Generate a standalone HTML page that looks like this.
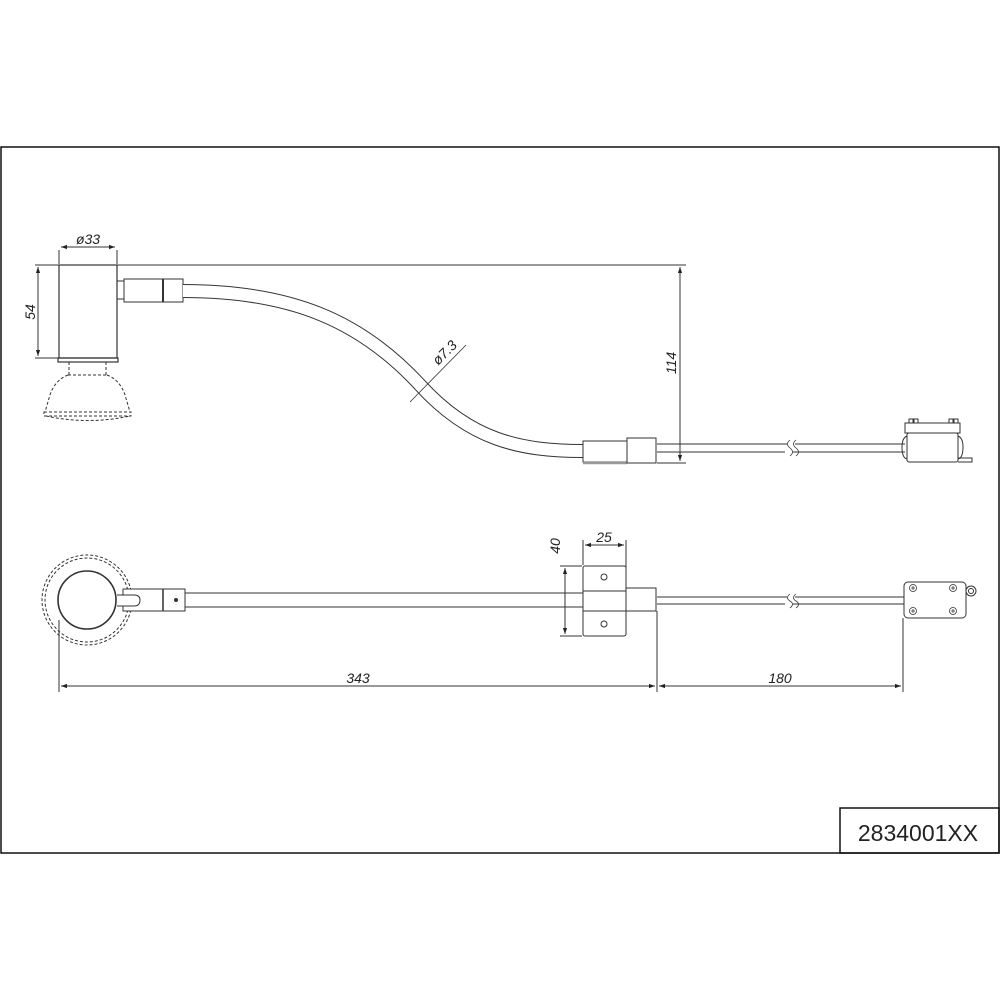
<!DOCTYPE html>
<html><head><meta charset="utf-8"><style>
html,body{margin:0;padding:0;background:#fff;}
svg{display:block;}
text{font-family:"Liberation Sans",sans-serif;fill:#222;}
</style></head><body>
<svg width="1000" height="1000" viewBox="0 0 1000 1000" xmlns="http://www.w3.org/2000/svg">
<defs>
<marker id="a" viewBox="0 0 10 10" refX="10" refY="5" markerWidth="8" markerHeight="6" orient="auto-start-reverse" markerUnits="userSpaceOnUse"><path d="M0,1.5 L10,5 L0,8.5z" fill="#222"/></marker>
</defs>
<rect x="1" y="147" width="998" height="706" fill="none" stroke="#111" stroke-width="1.5"/>
<rect x="840" y="808" width="159" height="45" fill="none" stroke="#111" stroke-width="1.5"/>
<text x="918" y="841" font-size="23" text-anchor="middle" fill="#111">2834001XX</text>

<g fill="none" stroke="#333" stroke-width="1">
<rect x="59" y="265" width="58" height="93" fill="#fff" stroke-width="1.2"/>
<rect x="58" y="358" width="60" height="4" stroke-width="1.2"/>
<g stroke-dasharray="3,2">
<path d="M69,362 V375 M106,362 V375 M68,375 H107"/>
<path d="M68,375 Q55,380 50,395 L45,412 M107,375 Q120,380 125,395 L130,412"/>
<rect x="44" y="412" width="87" height="4"/>
<path d="M46,416 Q88,425 130,416"/>
</g>
<rect x="117" y="281" width="7" height="18"/>
<path d="M124,279 H163 V302 H124 Z"/>
<path d="M163,279 V302" stroke-width="2"/>
<path d="M163,279 H183 V302 H163"/>
<path d="M183,291 C290,291 360,320 420,385 C470,440 520,451 583,451" stroke="#333" stroke-width="14"/>
<path d="M183,291 C290,291 360,320 420,385 C470,440 520,451 583,451" stroke="#fff" stroke-width="12"/>
<rect x="583" y="441" width="44" height="21" fill="#fff"/>
<path d="M583,463 H627" stroke-width="2.5" stroke="#999"/>
<path d="M627,438 H656 V463 H627 Z" fill="#fff"/>
<path d="M657,444 H787 M657,452 H785 M795,444 H905 M793,452 H905"/>
<path d="M790,440 Q785,444 790,448 Q795,452 790,456 M796,440 Q791,444 796,448 Q801,452 796,456" stroke-width="0.8"/>
<rect x="905" y="423" width="55" height="10"/>
<rect x="907" y="433" width="51" height="29" rx="2"/>
<path d="M907,436 Q902,438 902,447 Q902,458 907,459 M958,436 Q963,438 963,447 Q963,458 958,459"/>
<path d="M958,458 H972 V462 H958"/>
<path d="M909,423 v-4 h4 v4 M914,423 v-4 h4 v4 M949,423 v-4 h4 v4 M954,423 v-4 h4 v4"/>
<path d="M35,265 H686 M35,358 H58 M59,250 V264 M117,250 V264 M657,463 H686"/>
<path d="M38,267 V356" marker-start="url(#a)" marker-end="url(#a)"/>
<path d="M61,247 H115" marker-start="url(#a)" marker-end="url(#a)"/>
<path d="M680,267 V461" marker-start="url(#a)" marker-end="url(#a)"/>
<path d="M410,402 L466,345" stroke-width="0.8"/>
<circle cx="87" cy="600" r="29" stroke-width="1.6"/>
<circle cx="87" cy="600" r="42" stroke-dasharray="3,2"/>
<circle cx="87" cy="600" r="45" stroke-dasharray="3,2"/>
<rect x="123" y="589" width="62" height="22" fill="#fff"/>
<path d="M163,589 V611" stroke-width="1.5"/>
<circle cx="176" cy="600" r="1.5" fill="#333"/>
<path d="M117,595 H134 Q140,595 140,600 Q140,606 134,606 H117" fill="#fff"/>
<path d="M185,593 H583 M185,607 H583"/>
<rect x="583" y="566" width="43" height="70" rx="2" fill="#fff"/>
<path d="M583,591 H626 M583,611 H626"/>
<circle cx="604" cy="577" r="3"/>
<circle cx="604" cy="624" r="3"/>
<path d="M626,588 H656 V611 H626"/>
<path d="M657,597 H787 M657,604 H785 M795,597 H904 M793,604 H904"/>
<path d="M790,594 Q785,598 790,601 Q795,604 790,608 M796,594 Q791,598 796,601 Q801,604 796,608" stroke-width="0.8"/>
<rect x="904" y="582" width="62" height="36" rx="4"/>
<circle cx="971" cy="591" r="5"/><circle cx="971" cy="591" r="2.5"/>
<g stroke-width="0.8">
<circle cx="913" cy="588" r="3.5"/><circle cx="953" cy="588" r="3.5"/><circle cx="913" cy="611" r="3.5"/><circle cx="953" cy="611" r="3.5"/>
<path d="M911,588h4M913,586v4M951,588h4M953,586v4M911,611h4M913,609v4M951,611h4M953,609v4"/>
</g>
<path d="M583,540 V565 M626,540 V588 M560,566 H582 M560,636 H582"/>
<path d="M585,545 H624" marker-start="url(#a)" marker-end="url(#a)"/>
<path d="M565,568 V634" marker-start="url(#a)" marker-end="url(#a)"/>
<path d="M59,620 V692 M657,611 V692 M903,618 V692"/>
<path d="M61,686 H655" marker-start="url(#a)" marker-end="url(#a)"/>
<path d="M659,686 H901" marker-start="url(#a)" marker-end="url(#a)"/>
</g>
<g font-size="14" font-style="italic">
<text x="88" y="244" text-anchor="middle">ø33</text>
<text transform="translate(35,312) rotate(-90)" text-anchor="middle">54</text>
<text transform="translate(676,363) rotate(-90)" text-anchor="middle">114</text>
<text transform="translate(448,356) rotate(-45)" text-anchor="middle">ø7.3</text>
<text x="604" y="542" text-anchor="middle">25</text>
<text transform="translate(560,546) rotate(-90)" text-anchor="middle">40</text>
<text x="358" y="683" text-anchor="middle">343</text>
<text x="780" y="683" text-anchor="middle">180</text>
</g>
</svg>
</body></html>
